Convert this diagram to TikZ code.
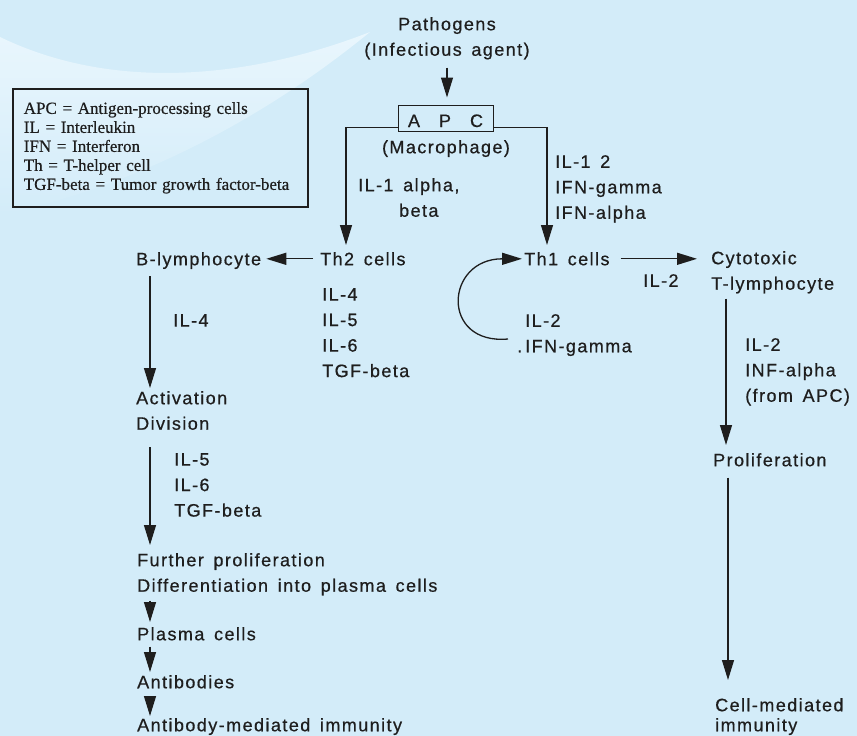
\documentclass[tikz,border=0pt]{standalone}
\usepackage{fontspec}
\usepackage{tikz}
\usetikzlibrary{arrows.meta}
\usepackage{xcolor}
\newfontfamily\diagfont[LetterSpace=8,WordSpace=1.5,FakeBold=0.6]{Liberation Sans}
\newfontfamily\legfont[WordSpace=1.3,FakeBold=0.5]{Liberation Serif}
\definecolor{bgblue}{HTML}{D3ECF9}
\definecolor{bglight}{HTML}{E9F6FD}
\definecolor{ink}{HTML}{1E1E1E}

\begin{document}
\begin{tikzpicture}[x=1pt,y=-1pt,
  txt/.style={font=\diagfont\fontsize{18}{25.5}\selectfont, text=ink, inner sep=0pt, align=left, anchor=north west},
  ctr/.style={txt, align=center, anchor=north},
  arr/.style={draw=ink, line width=1.3pt, -{Triangle[length=20pt,width=12pt]}}]
\fill[bgblue] (0,0) rectangle (857,736);
\useasboundingbox (0,0) rectangle (857,736);
\shade[top color=bglight, bottom color=bgblue] (0,37) .. controls (120,95) and (260,75) .. (370,32)
  .. controls (250,130) and (120,190) .. (0,215) -- cycle;

\node[draw=ink, line width=1.6pt, anchor=north west, minimum width=295pt, minimum height=118pt,
  text width=273pt, inner xsep=11pt, inner ysep=0pt, align=left, text=ink,
  font=\legfont\fontsize{17}{19}\selectfont] (legend) at (12,88)
  {APC = Antigen-processing cells\\IL = Interleukin\\IFN = Interferon\\Th = T-helper cell\\TGF-beta = Tumor growth factor-beta};

\node[ctr] (path) at (447,17) {Pathogens\\(Infectious agent)};
\node[draw=ink, line width=1pt, minimum width=95pt, minimum height=26pt, inner sep=0pt,
  text height=18pt, text depth=0pt, font=\diagfont\fontsize{18}{22}\selectfont, text=ink] (apc) at (445.5,118)
  {A\hspace{19pt}P\hspace{19pt}C};
\node[ctr] (macro) at (446,140) {(Macrophage)};
\node[txt, align=center] (il1ab) at (358,178) {IL-1 alpha,\\\hspace*{20pt}beta};
\node[txt] (il1g) at (555,155) {IL-1 2\\IFN-gamma\\IFN-alpha};

\node[txt] (th2) at (320,252) {Th2 cells};
\node[txt] (blym) at (136,252) {B-lymphocyte};
\node[txt] (th2il) at (322,288) {IL-4\\IL-5\\IL-6\\TGF-beta};
\node[txt] (th1) at (524,252) {Th1 cells};
\node[txt] (il2a) at (643,274) {IL-2};
\node[txt] (cyt) at (711,251) {Cytotoxic\\T-lymphocyte};
\node[txt] (il2b) at (517,314) {\phantom{.\,}IL-2\\.\,IFN-gamma};

\node[txt] (il4b) at (173,314) {IL-4};
\node[txt] (act) at (136,391) {Activation\\Division};
\node[txt] (il56) at (174,453) {IL-5\\IL-6\\TGF-beta};
\node[txt] (further) at (137,553) {Further proliferation\\Differentiation into plasma cells};
\node[txt] (plasma) at (137,627) {Plasma cells};
\node[txt] (antib) at (137,675) {Antibodies};
\node[txt] (ami) at (137,718) {Antibody-mediated immunity};

\node[txt] (ctlil) at (745,338) {IL-2\\INF-alpha\\(from APC)};
\node[txt] (prolif) at (713,453) {Proliferation};
\node[txt] (cmi) at (715,698) {Cell-mediated\\[-5.5pt]immunity};

\draw[arr, shorten <=8pt, shorten >=7pt] (path.south) -- (path.south |- apc.north);
\draw[arr, shorten >=7pt] ([yshift=4pt]apc.south west) -| ([xshift=26pt]th2.north west);
\draw[arr, shorten >=7pt] ([yshift=4pt]apc.south east) -| ([xshift=23pt]th1.north west);
\draw[arr, shorten <=7pt, shorten >=5pt] (th2.west) -- (th2.west -| blym.east);
\draw[arr, shorten <=11pt, shorten >=14pt] (th1.east) -- (th1.east -| cyt.west);
\coordinate (loopst) at (508,339);
\draw[arr, shorten >=2pt] (loopst) .. controls +(-68,6) and +(-79,0) .. (th1.west);

\draw[arr, shorten <=7pt, shorten >=3pt] ([xshift=14pt]blym.south west) -- ([xshift=14pt]act.north west);
\draw[arr, shorten <=17pt, shorten >=8pt] ([xshift=14pt]act.south west) -- ([xshift=13pt]further.north west);
\draw[arr, shorten <=5pt, shorten >=5pt] ([xshift=13pt]further.south west) -- ([xshift=13pt]plasma.north west);
\draw[arr, shorten <=6pt, shorten >=3pt] ([xshift=13pt]plasma.south west) -- ([xshift=13pt]antib.north west);
\draw[arr, shorten <=9pt, shorten >=2pt] ([xshift=13pt]antib.south west) -- ([xshift=13pt]ami.north west);

\draw[arr, shorten <=5pt, shorten >=8pt] ([xshift=15pt]cyt.south west) -- ([xshift=13pt]prolif.north west);
\draw[arr, shorten <=11pt, shorten >=18pt] ([xshift=15pt]prolif.south west) -- ([xshift=13pt]cmi.north west);
\end{tikzpicture}
\end{document}
